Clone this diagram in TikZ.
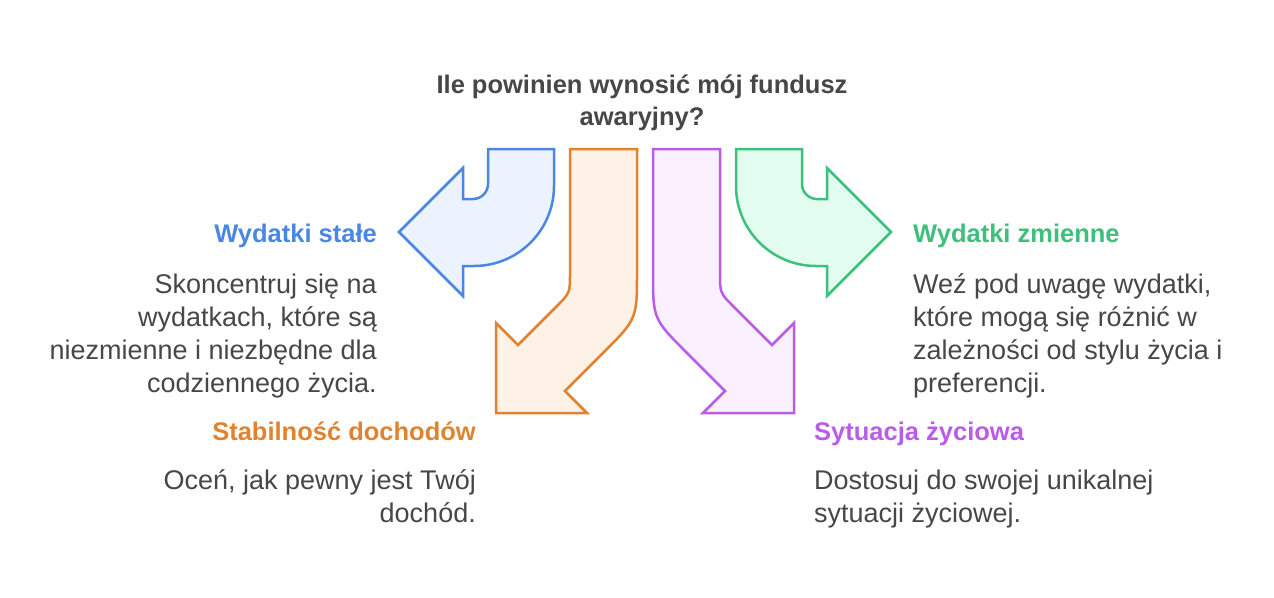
\documentclass[tikz,border=0pt]{standalone}
\usepackage{fontspec}
\setmainfont{Liberation Sans}
\usepackage{tikz}
\usetikzlibrary{positioning,calc}
\definecolor{txtgray}{HTML}{474747}
\definecolor{bluestroke}{HTML}{4A87E3}
\definecolor{bluefill}{HTML}{ECF3FE}
\definecolor{orangestroke}{HTML}{E0832F}
\definecolor{orangefill}{HTML}{FEF1E5}
\definecolor{purplestroke}{HTML}{B95CE6}
\definecolor{purplefill}{HTML}{FAF0FE}
\definecolor{greenstroke}{HTML}{3DC07C}
\definecolor{greenfill}{HTML}{E2FCEF}
\tikzstyle{question}=[inner sep=0pt,align=center,text=txtgray,font=\fontsize{25.5}{32}\selectfont\bfseries]
\tikzstyle{heading}=[inner sep=0pt,font=\fontsize{25.5}{32}\selectfont\bfseries]
\tikzstyle{body}=[inner sep=0pt,text=txtgray,font=\fontsize{27}{33}\selectfont]
\tikzstyle{bentarrow}=[line width=2.5pt,line join=miter]

\begin{document}
\begin{tikzpicture}[x=1pt,y=-1pt]
    \useasboundingbox[fill=white] (0,0) rectangle (1274,597);
    % arrows
    \draw [bentarrow,draw=bluestroke,fill=bluefill]
       (488,149) -- (554,149) -- (554,186) arc (0:90:80) --
       (463,266) -- (463,296) -- (399,232) -- (463,168) --
       (463,199) -- (473,199) arc (90:0:15) -- cycle;
    \draw [bentarrow,draw=orangestroke,fill=orangefill]
       (570,149) -- (637,149) -- (637,272) .. controls (637,319) .. (603,353) --
       (565,391) -- (587,413) -- (496,413) -- (496,323) --
       (518,345) -- (556,307) .. controls (570,293) .. (570,273) -- cycle;
    \draw [bentarrow,draw=purplestroke,fill=purplefill]
       (720,149) -- (653,149) -- (653,272) .. controls (653,319) .. (687,353) --
       (725,391) -- (703,413) -- (794,413) -- (794,323) --
       (772,345) -- (734,307) .. controls (720,293) .. (720,273) -- cycle;
    \draw [bentarrow,draw=greenstroke,fill=greenfill]
       (802,149) -- (736,149) -- (736,186) arc (180:90:80) --
       (827,266) -- (827,296) -- (891,232) -- (827,168) --
       (827,199) -- (817,199) arc (90:180:15) -- cycle;
    % texts (base = last line)
    \node [question,anchor=base] (q) at (642,125) {Ile powinien wynosić mój fundusz\\awaryjny?};
    \node [heading,text=bluestroke,anchor=base east] (fixed) at (377,242) {Wydatki stałe};
    \path (fixed.base east)++(0,150) node [body,anchor=base east,align=right] (fixedtext)
       {Skoncentruj się na\\wydatkach, które są\\niezmienne i niezbędne dla\\codziennego życia.};
    \node [heading,text=orangestroke,anchor=base east] (income) at (476,440) {Stabilność dochodów};
    \path (income.base east)++(0,82) node [body,anchor=base east,align=right] (incometext)
       {Oceń, jak pewny jest Twój\\dochód.};
    \node [heading,text=greenstroke,anchor=base west] (variable) at (913,242) {Wydatki zmienne};
    \path (variable.base west)++(0,150) node [body,anchor=base west,align=left] (variabletext)
       {Weź pod uwagę wydatki,\\które mogą się różnić w\\zależności od stylu życia i\\preferencji.};
    \node [heading,text=purplestroke,anchor=base west] (life) at (814,440) {Sytuacja życiowa};
    \path (life.base west)++(0,82) node [body,anchor=base west,align=left] (lifetext)
       {Dostosuj do swojej unikalnej\\sytuacji życiowej.};
\end{tikzpicture}
\end{document}
